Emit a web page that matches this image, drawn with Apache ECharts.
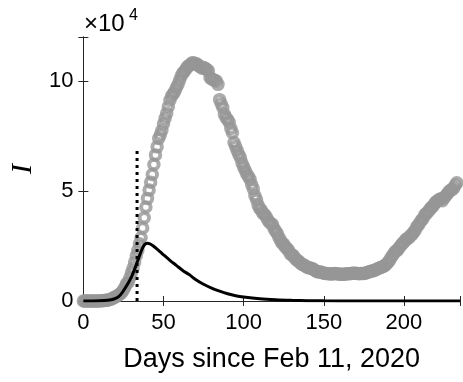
<!DOCTYPE html>
<html>
<head>
<meta charset="utf-8">
<script src="https://cdn.jsdelivr.net/npm/echarts@6/dist/echarts.min.js"></script>
<style>
  html, body { margin: 0; padding: 0; background: #fff; }
  #chart { width: 463px; height: 382px; }
</style>
</head>
<body>
<div id="chart"></div>
<script>
// reported active infections, one value per day starting Feb 11, 2020
const activeCases = [
    3, 3, 3, 3, 3, 3, 3, 3, 3, 3,
    17, 76, 150, 221, 311, 385, 588, 821, 1049, 1577,
    1835, 2263, 2706, 3296, 3916, 5061, 6387, 7985, 8514, 10590,
    12839, 14955, 17750, 20603, 23073, 26062, 28710, 33190, 37860, 42681,
    46638, 50418, 54030, 57521, 62013, 66414, 70065, 73880, 75528, 77635,
    80572, 83049, 85388, 88274, 91246, 93187, 94067, 95262, 96877, 98273,
    100269, 102253, 103616, 104291, 105418, 106607, 106962, 107771, 108257, 108237,
    107709, 107699, 106848, 106527, 105847, 106103, 105813, 105205, 104657, 101551,
    100943, 100704, 100179, 99980, 98467, 91528, 89624, 87961, 84842, 83324,
    82488, 81266, 78457, 76440, 72070, 70187, 68351, 66553, 65129, 62752,
    60960, 59322, 57752, 56594, 55300, 52942, 50966, 47986, 46175, 43691,
    42075, 41367, 39893, 39297, 38429, 36976, 35877, 35262, 34730, 32872,
    31710, 30637, 28997, 27485, 26274, 25909, 24569, 23925, 23101, 21543,
    20972, 20637, 19573, 18655, 18303, 17638, 16836, 16496, 16248, 15563,
    15255, 15060, 14884, 14621, 14242, 13595, 13303, 13179, 13157, 12919,
    12581, 12493, 12456, 12404, 12301, 12322, 12440, 12456, 12368, 12248,
    12156, 12209, 12166, 12202, 12348, 12404, 12442, 12482, 12609, 12616,
    12581, 12457, 12422, 12474, 12456, 12482, 12646, 12924, 13160, 13368,
    13644, 13791, 14081, 14406, 14733, 15089, 15360, 15679, 16014, 16678,
    17503, 18438, 19714, 20753, 21932, 22706, 23035, 24205, 25096, 26078,
    26754, 27817, 28258, 28628, 29633, 30099, 31194, 32078, 33789, 34447,
    35708, 36767, 37503, 39187, 39712, 40532, 41413, 42457, 42977, 44098,
    45079, 45489, 46114, 46439, 45548, 46780, 47718, 48593, 49618, 50323,
    50630, 51263, 52647, 53694
];

// model curve
const modelDays = [0, 5, 10, 15, 18, 20, 22, 24, 26, 28, 30, 32, 34, 36, 38, 40, 42, 44, 46, 48, 50,
    54, 58, 62, 66, 70, 75, 80, 85, 90, 95, 100, 110, 120, 130, 140, 150, 170, 200, 235];
const modelValues = [0, 20, 80, 300, 700, 1200, 2000, 3600, 5800, 8200, 11000, 14500, 18500, 22500, 25500, 26300, 25800, 24800, 23600, 22300, 21000,
    18500, 16200, 13900, 12000, 9800, 7600, 5900, 4500, 3300, 2400, 1800, 1000, 550, 300, 170, 90, 30, 5, 0];

// vertical marker
const markerDay = 33.5;
const markerRange = [0, 70000];

const xTicks = [0, 50, 100, 150, 200];
const yTicks = [0, 50000, 100000];

const axisColor = "#262626";
const labelFont = "Liberation Sans";

const chart = echarts.init(document.getElementById("chart"));

const sharedX = {
    type: "value",
    min: 0,
    max: 235,
    interval: 50,
    splitLine: { show: false },
    axisLine: { show: true, lineStyle: { color: axisColor, width: 1 } },
    axisTick: { show: true, inside: true, length: 5, lineStyle: { color: axisColor } },
};
const sharedY = {
    type: "value",
    min: 0,
    max: 120000,
    interval: 50000,
    splitLine: { show: false },
    axisLine: { show: true, lineStyle: { color: axisColor, width: 1 } },
    axisTick: { show: true, inside: true, length: 5, lineStyle: { color: axisColor } },
};

const option = {
    animation: false,
    grid: { left: 83, top: 37, right: -3, bottom: 81 },
    xAxis: [
        {
            ...sharedX,
            position: "bottom",
            name: "Days since Feb 11, 2020",
            nameLocation: "middle",
            nameGap: 45,
            nameTextStyle: { fontFamily: labelFont, fontSize: 27, color: "#000" },
            axisLabel: {
                margin: 11,
                fontFamily: labelFont,
                fontSize: 22,
                color: "#000",
                formatter: (v) => (xTicks.includes(v) ? String(v) : ""),
            },
        },
        { ...sharedX, position: "top", axisLabel: { show: false } },
    ],
    yAxis: [
        {
            ...sharedY,
            position: "left",
            name: "I",
            nameLocation: "middle",
            nameGap: 44,
            nameRotate: 90,
            nameTextStyle: { fontFamily: "Liberation Serif", fontStyle: "italic", fontSize: 30, color: "#000" },
            axisLabel: {
                margin: 10,
                fontFamily: labelFont,
                fontSize: 22,
                color: "#000",
                formatter: (v) => (yTicks.includes(v) ? String(v / 10000) : ""),
            },
        },
        { ...sharedY, position: "right", axisLabel: { show: false } },
    ],
    graphic: [
        {
            type: "text",
            style: { x: 84, y: 24, text: "\u00d710", font: '24px "Liberation Sans"', fill: "#000", verticalAlign: "middle" },
        },
        {
            type: "text",
            style: { x: 129, y: 16, text: "4", font: '16px "Liberation Sans"', fill: "#000", verticalAlign: "middle" },
        },
    ],
    series: [
        {
            type: "scatter",
            z: 2,
            symbol: "circle",
            symbolSize: 9.5,
            itemStyle: { color: "rgba(0,0,0,0)", borderColor: "#969696", borderWidth: 4 },
            data: activeCases.map((v, i) => [i, v]),
            silent: true,
        },
        {
            type: "line",
            z: 3,
            showSymbol: false,
            lineStyle: { color: "#000", width: 3, type: [3, 4] },
            data: markerRange.map((v) => [markerDay, v]),
            silent: true,
        },
        {
            type: "line",
            z: 4,
            showSymbol: false,
            smooth: 0.3,
            lineStyle: { color: "#000", width: 3 },
            data: modelDays.map((d, i) => [d, modelValues[i]]),
            silent: true,
        },
    ],
};

chart.setOption(option);
</script>
</body>
</html>
